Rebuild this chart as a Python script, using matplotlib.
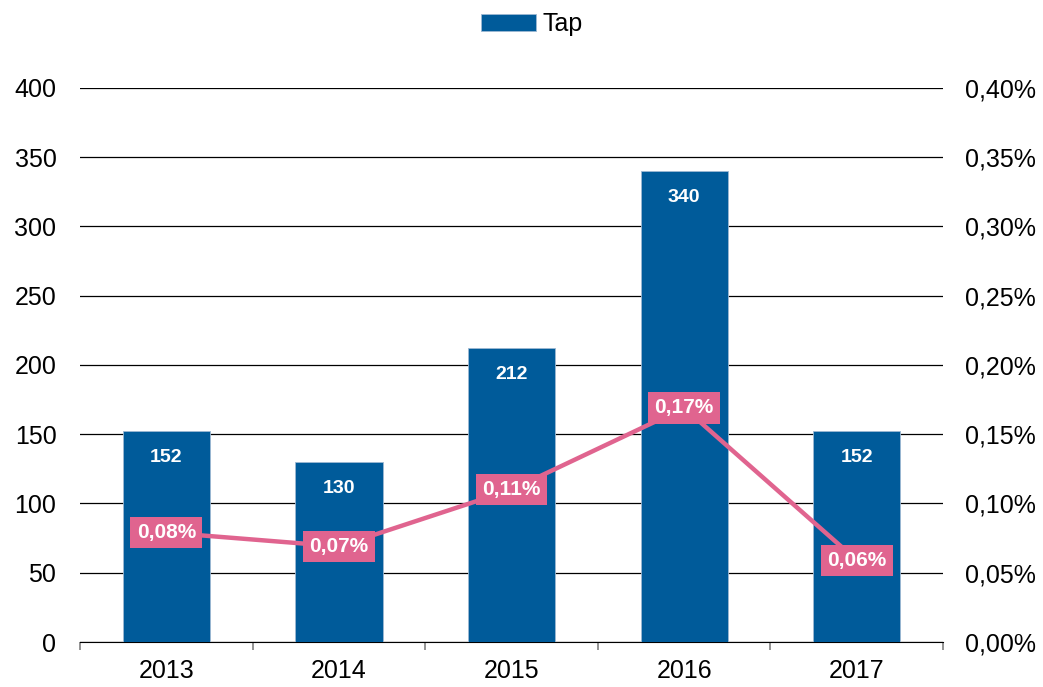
import numpy as np
import matplotlib.pyplot as plt
from matplotlib.ticker import FixedLocator

plt.rcParams['font.family'] = ['Liberation Sans', 'DejaVu Sans']

# data
years = ['2013', '2014', '2015', '2016', '2017']
tap = [152, 130, 212, 340, 152]
share = [0.079, 0.069, 0.110, 0.169, 0.059]          # percent
share_labels = ['0,08%', '0,07%', '0,11%', '0,17%', '0,06%']
left_ticks = [0, 50, 100, 150, 200, 250, 300, 350, 400]
right_ticks = [0.00, 0.05, 0.10, 0.15, 0.20, 0.25, 0.30, 0.35, 0.40]

BAR_COLOR = '#005B9A'
LINE_COLOR = '#E0648F'
TICK_FS = 18

fig = plt.figure(figsize=(10.43, 6.87), dpi=100)
ax = fig.add_axes([0.0767, 0.0655, 0.8275, 0.8065])
ax2 = ax.twinx()

x = np.arange(len(years))
bars = ax.bar(x, tap, width=0.505, color=BAR_COLOR, edgecolor='#9DB9D3',
              linewidth=0.6, label='Tap', zorder=3)
ax.set_xlim(-0.5, len(years) - 0.5)
ax.set_ylim(0, 400)
ax.set_yticks(left_ticks)
ax.yaxis.grid(True, color='black', linewidth=0.9, zorder=0)
ax.set_axisbelow(True)

for xi, v in zip(x, tap):
    ax.annotate(str(v), (xi, v), xytext=(0, -19), textcoords='offset points',
                ha='center', va='center', color='white', fontweight='bold',
                fontsize=14, zorder=5)

# x axis: labels at centres, ticks at boundaries
ax.set_xticks(x)
ax.set_xticklabels(years, fontsize=TICK_FS)
ax.tick_params(axis='x', length=0, pad=12)
ax.xaxis.set_minor_locator(FixedLocator(np.arange(-0.5, len(years), 1)))
ax.tick_params(axis='x', which='minor', length=6, color='#808080', width=1.2)
ax.tick_params(axis='y', length=0, labelsize=TICK_FS, pad=17)

for a in (ax, ax2):
    for s in ('top', 'left', 'right'):
        a.spines[s].set_visible(False)
ax.spines['bottom'].set_color('black')
ax2.spines['bottom'].set_visible(False)

ax2.plot(x, share, color=LINE_COLOR, linewidth=3.2, zorder=4)
ax2.set_ylim(0, 0.40)
ax2.set_yticks(right_ticks)
ax2.set_yticklabels([f'{t:.2f}%'.replace('.', ',') for t in right_ticks])
ax2.tick_params(axis='y', length=0, labelsize=TICK_FS, pad=16)

for xi, v, lab in zip(x, share, share_labels):
    ax2.text(xi, v, lab, ha='center', va='center', color='white',
             fontweight='bold', fontsize=15, zorder=6,
             bbox=dict(boxstyle='square,pad=0.3', facecolor=LINE_COLOR,
                       edgecolor='none'))

fig.legend(handles=[bars], labels=['Tap'], loc='upper center',
           bbox_to_anchor=(0.51, 1.015), frameon=False, fontsize=TICK_FS,
           handlelength=2.2, handleheight=0.7, handletextpad=0.25)

fig.savefig('out.png', dpi=100)
